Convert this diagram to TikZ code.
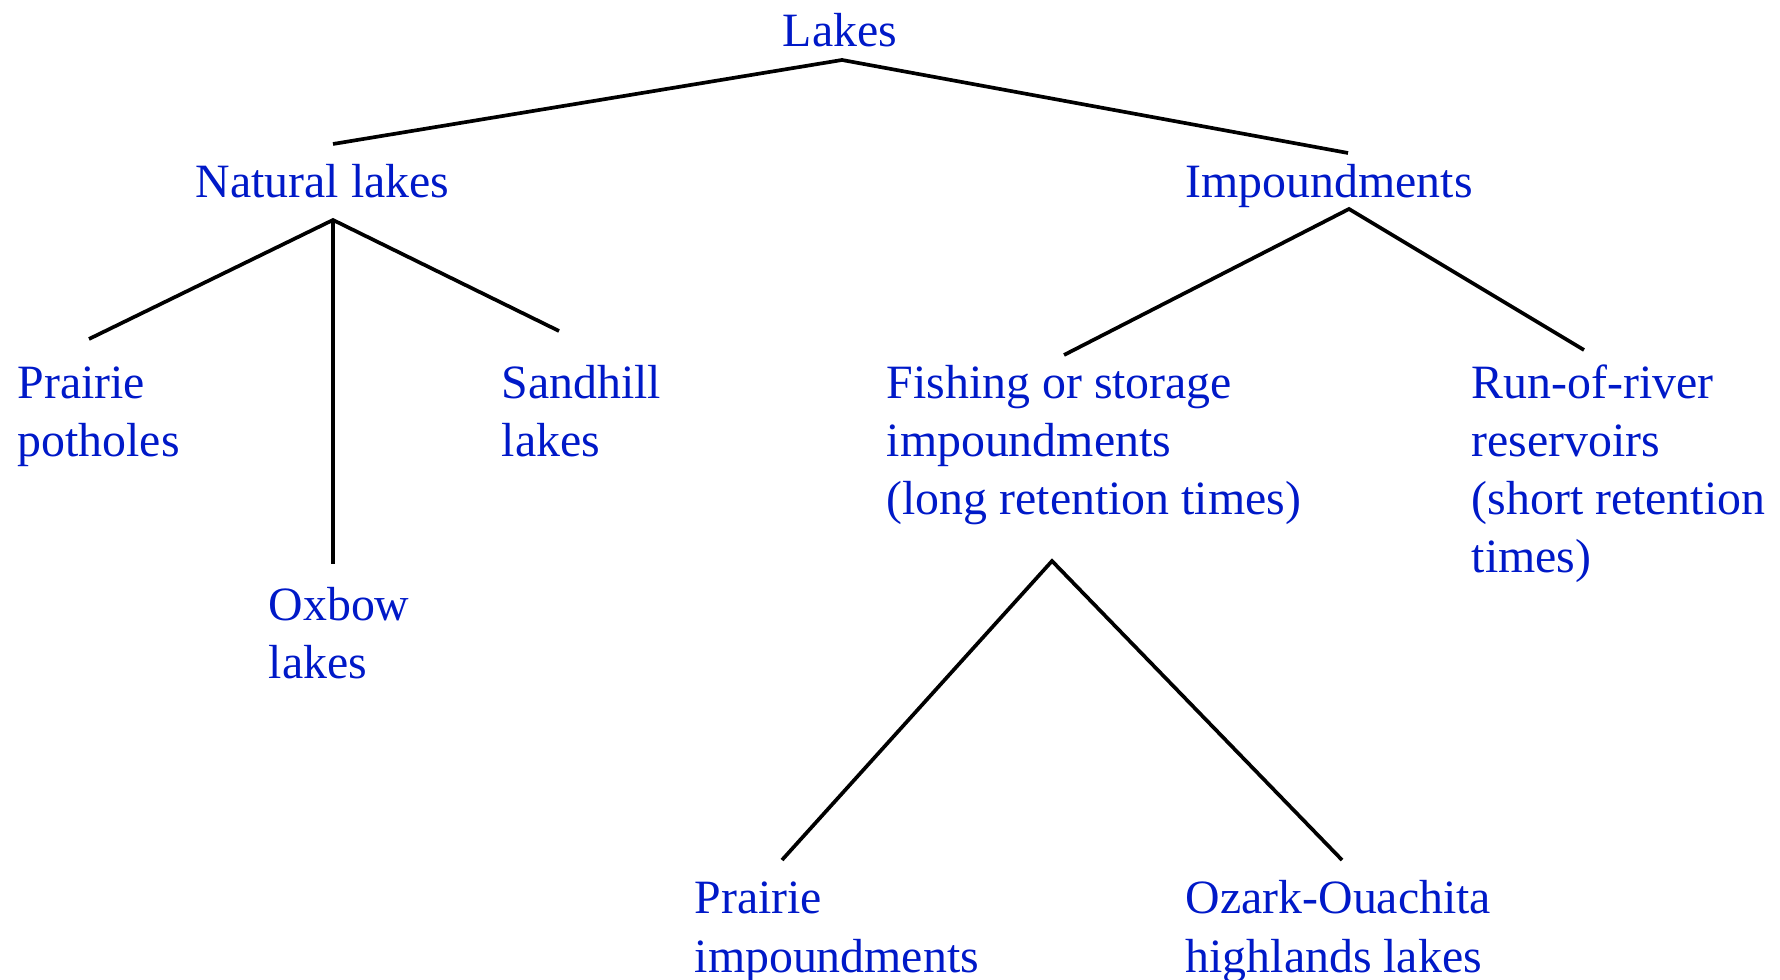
\documentclass[tikz,border=0pt]{standalone}
\usepackage{fontspec}
\setmainfont{Liberation Serif}
\definecolor{lakeblue}{RGB}{0,25,200}
\tikzset{
  kind/.style={anchor=base west, inner sep=0pt, align=left, text=lakeblue,
    font=\fontsize{13.6}{16.5}\selectfont},
  head/.style={kind, anchor=base},
  branch/.style={draw=black, line width=1.05pt}
}

\begin{document}
\begin{tikzpicture}[x=0.01cm, y=-0.01cm]
  \useasboundingbox (0,0) rectangle (1780,980);

  % nodes sit on the baseline of their last line
  \node[head] (lakes) at (840,47) {Lakes};
  \node[kind] (natural) at (195,198) {Natural lakes};
  \node[kind] (impound) at (1185,198) {Impoundments};

  \node[kind] (potholes) at (17,457) {Prairie\\potholes};
  \node[kind] (oxbow) at (268,679) {Oxbow\\lakes};
  \node[kind] (sandhill) at (501,457) {Sandhill\\lakes};
  \node[kind] (fishing) at (886,515) {Fishing or storage\\impoundments\\(long retention times)};
  \node[kind] (river) at (1471,573) {Run-of-river\\reservoirs\\(short retention\\times)};
  \node[kind] (prairieimp) at (694,972) {Prairie\\impoundments};
  \node[kind] (ozark) at (1185,972) {Ozark-Ouachita\\highlands lakes};

  % joints and line ends
  \coordinate (lakes-j) at (842,60);
  \coordinate (natural-up) at (333,144);
  \coordinate (impound-up) at (1348,153);
  \coordinate (natural-j) at (333,220);
  \coordinate (potholes-up) at (89,339);
  \coordinate (oxbow-up) at (333,564);
  \coordinate (sandhill-up) at (559,331);
  \coordinate (impound-j) at (1349,209);
  \coordinate (fishing-up) at (1064,355);
  \coordinate (river-up) at (1584,350);
  \coordinate (fishing-j) at (1052,561);
  \coordinate (prairieimp-up) at (782,860);
  \coordinate (ozark-up) at (1342,860);

  \draw[branch] (natural-up) -- (lakes-j) -- (impound-up);
  \draw[branch] (potholes-up) -- (natural-j) -- (sandhill-up);
  \draw[branch] (natural-j) -- (oxbow-up);
  \draw[branch] (fishing-up) -- (impound-j) -- (river-up);
  \draw[branch] (prairieimp-up) -- (fishing-j) -- (ozark-up);
\end{tikzpicture}
\end{document}
